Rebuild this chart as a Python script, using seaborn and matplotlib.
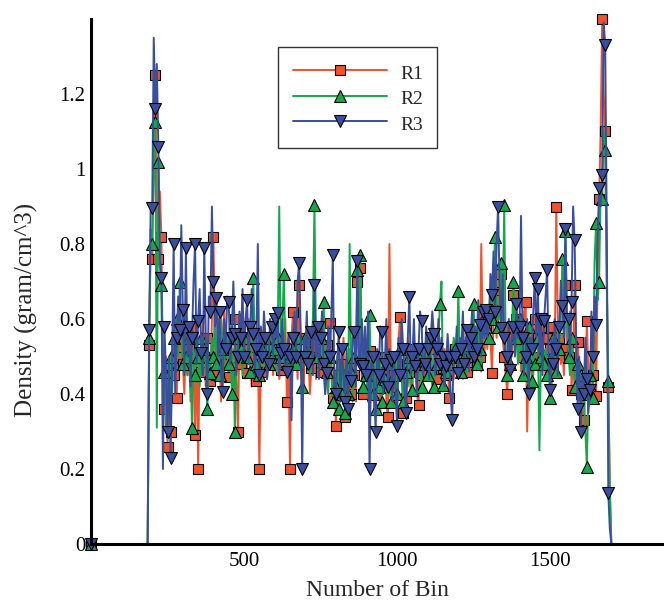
import numpy as np
import pandas as pd
import matplotlib
matplotlib.use("Agg")
import matplotlib.pyplot as plt
from matplotlib.ticker import MultipleLocator, FixedLocator, FuncFormatter
import seaborn as sns

# ---------------- data ----------------
# bins: 0, 185, then 190..1700 every 5 bins
bins = [0, 185] + list(range(190, 1705, 5))

r1_vals = [0.0, 0.0,
    0.53, 0.84, 0.76, 1.05, 1.25, 0.90, 0.76, 0.94, 0.82, 0.45, 0.36, 0.50, 0.26, 0.42, 0.30, 0.55, 0.45, 0.60, 0.39, 0.52,
    0.50, 0.62, 0.48, 0.40, 0.55, 0.45, 0.52, 0.38, 0.58, 0.47, 0.29, 0.55, 0.20, 0.52, 0.46, 0.60, 0.50, 0.42, 0.55, 0.48,
    0.435, 0.60, 0.82, 0.53, 0.45, 0.60, 0.50, 0.38, 0.55, 0.62, 0.48, 0.52, 0.445, 0.58, 0.50, 0.40, 0.60, 0.45, 0.30, 0.55,
    0.48, 0.58, 0.52, 0.46, 0.455, 0.60, 0.50, 0.42, 0.55, 0.48, 0.435, 0.56, 0.20, 0.50, 0.46, 0.58, 0.50, 0.44, 0.52, 0.48,
    0.55, 0.45, 0.50, 0.56, 0.52, 0.44, 0.465, 0.55, 0.48, 0.60, 0.38, 0.52, 0.20, 0.55, 0.62, 0.48, 0.52, 0.44, 0.69, 0.50,
    0.50, 0.42, 0.55, 0.48, 0.52, 0.40, 0.47, 0.60, 0.50, 0.44, 0.56, 0.50, 0.46, 0.62, 0.48, 0.40, 0.53, 0.45, 0.59, 0.50,
    0.39, 0.47, 0.315, 0.50, 0.45, 0.38, 0.48, 0.55, 0.34, 0.45, 0.42, 0.52, 0.40, 0.48, 0.45, 0.38, 0.70, 0.52, 0.735, 0.45,
    0.40, 0.48, 0.45, 0.38, 0.515, 0.42, 0.48, 0.36, 0.44, 0.50, 0.42, 0.35, 0.46, 0.40, 0.50, 0.38, 0.34, 0.80, 0.42, 0.48,
    0.45, 0.38, 0.48, 0.55, 0.605, 0.45, 0.35, 0.50, 0.39, 0.55, 0.46, 0.40, 0.52, 0.45, 0.48, 0.40, 0.37, 0.52, 0.45, 0.50,
    0.48, 0.55, 0.455, 0.50, 0.46, 0.42, 0.52, 0.48, 0.44, 0.55, 0.50, 0.43, 0.47, 0.52, 0.45, 0.50, 0.39, 0.48, 0.50, 0.44,
    0.52, 0.47, 0.50, 0.55, 0.48, 0.44, 0.53, 0.50, 0.46, 0.56, 0.50, 0.45, 0.52, 0.58, 0.48, 0.55, 0.50, 0.80, 0.55, 0.50,
    0.58, 0.52, 0.62, 0.55, 0.455, 0.60, 0.65, 0.55, 0.70, 0.60, 0.72, 0.55, 0.50, 0.45, 0.40, 0.52, 0.58, 0.50, 0.665, 0.55,
    0.60, 0.50, 0.55, 0.46, 0.50, 0.62, 0.645, 0.30, 0.52, 0.58, 0.50, 0.45, 0.60, 0.52, 0.55, 0.48, 0.58, 0.50, 0.505, 0.45,
    0.55, 0.48, 0.52, 0.42, 0.58, 0.50, 0.90, 0.60, 0.55, 0.48, 0.52, 0.45, 0.69, 0.55, 0.50, 0.62, 0.41, 0.52, 0.69, 0.45,
    0.54, 0.45, 0.40, 0.35, 0.33, 0.42, 0.595, 0.45, 0.40, 0.50, 0.45, 0.60, 0.395, 0.70, 0.92, 1.10, 1.40, 1.20, 1.10, 0.70,
    0.42, 0.15, 0.0]

r2_vals = [0.0, 0.0,
    0.55, 0.80, 0.80, 1.00, 1.125, 0.31, 1.02, 0.74, 0.69, 0.50, 0.46, 0.30, 0.48, 0.35, 0.50, 0.40, 0.55, 0.45, 0.60, 0.50,
    0.70, 0.55, 0.48, 0.60, 0.50, 0.45, 0.55, 0.48, 0.31, 0.52, 0.45, 0.58, 0.50, 0.42, 0.55, 0.48, 0.52, 0.45, 0.36, 0.50,
    0.455, 0.55, 0.50, 0.62, 0.48, 0.55, 0.45, 0.60, 0.52, 0.46, 0.55, 0.50, 0.48, 0.58, 0.40, 0.52, 0.30, 0.50, 0.55, 0.48,
    0.52, 0.45, 0.55, 0.48, 0.50, 0.58, 0.46, 0.52, 0.71, 0.55, 0.48, 0.53, 0.45, 0.50, 0.52, 0.46, 0.55, 0.50, 0.48, 0.55,
    0.50, 0.55, 0.52, 0.46, 0.55, 0.90, 0.50, 0.58, 0.72, 0.52, 0.48, 0.55, 0.50, 0.45, 0.52, 0.58, 0.48, 0.52, 0.55, 0.47,
    0.42, 0.50, 0.55, 0.48, 0.52, 0.45, 0.50, 0.60, 0.905, 0.55, 0.50, 0.45, 0.55, 0.48, 0.645, 0.50, 0.46, 0.40, 0.50, 0.45,
    0.38, 0.45, 0.42, 0.50, 0.36, 0.45, 0.40, 0.48, 0.35, 0.44, 0.40, 0.80, 0.46, 0.38, 0.50, 0.42, 0.73, 0.50, 0.77, 0.45,
    0.42, 0.50, 0.45, 0.38, 0.61, 0.45, 0.40, 0.48, 0.36, 0.45, 0.42, 0.50, 0.38, 0.46, 0.44, 0.40, 0.48, 0.42, 0.38, 0.50,
    0.45, 0.50, 0.40, 0.48, 0.52, 0.45, 0.38, 0.50, 0.46, 0.42, 0.50, 0.45, 0.41, 0.52, 0.48, 0.44, 0.50, 0.46, 0.42, 0.52,
    0.48, 0.52, 0.45, 0.50, 0.55, 0.46, 0.42, 0.50, 0.48, 0.55, 0.64, 0.70, 0.425, 0.50, 0.46, 0.52, 0.48, 0.44, 0.50, 0.55,
    0.52, 0.48, 0.675, 0.50, 0.46, 0.55, 0.50, 0.45, 0.53, 0.48, 0.55, 0.50, 0.64, 0.52, 0.48, 0.58, 0.52, 0.46, 0.60, 0.55,
    0.58, 0.62, 0.55, 0.65, 0.60, 0.70, 0.82, 0.62, 0.58, 0.66, 0.75, 0.60, 0.905, 0.50, 0.45, 0.52, 0.48, 0.55, 0.70, 0.58,
    0.55, 0.48, 0.60, 0.52, 0.45, 0.55, 0.50, 0.46, 0.58, 0.50, 0.435, 0.52, 0.48, 0.60, 0.55, 0.25, 0.50, 0.55, 0.48, 0.52,
    0.45, 0.50, 0.39, 0.48, 0.55, 0.50, 0.46, 0.58, 0.52, 0.60, 0.76, 0.65, 0.835, 0.58, 0.50, 0.45, 0.55, 0.48, 0.42, 0.50,
    0.48, 0.40, 0.45, 0.38, 0.40, 0.30, 0.205, 0.42, 0.45, 0.50, 0.39, 0.75, 0.855, 0.65, 0.70, 0.95, 0.92, 1.10, 1.05, 0.70,
    0.435, 0.15, 0.0]

r3_vals = [0.0, 0.0,
    0.57, 0.90, 0.895, 1.35, 1.16, 1.28, 1.06, 0.765, 0.71, 0.20, 0.58, 0.45, 0.30, 0.50, 0.23, 0.48, 0.80, 0.40, 0.55, 0.66,
    0.57, 0.85, 0.625, 0.45, 0.79, 0.50, 0.58, 0.42, 0.55, 0.70, 0.80, 0.48, 0.595, 0.68, 0.51, 0.45, 0.79, 0.55, 0.40, 0.66,
    0.62, 0.90, 0.70, 0.58, 0.655, 0.50, 0.62, 0.45, 0.405, 0.60, 0.52, 0.66, 0.645, 0.48, 0.55, 0.70, 0.56, 0.45, 0.50, 0.62,
    0.55, 0.68, 0.50, 0.60, 0.65, 0.48, 0.58, 0.68, 0.56, 0.45, 0.52, 0.80, 0.45, 0.58, 0.50, 0.62, 0.55, 0.44, 0.48, 0.60,
    0.58, 0.50, 0.60, 0.55, 0.615, 0.45, 0.51, 0.60, 0.52, 0.46, 0.46, 0.56, 0.50, 0.33, 0.55, 0.62, 0.50, 0.70, 0.75, 0.57,
    0.20, 0.55, 0.50, 0.62, 0.48, 0.56, 0.565, 0.45, 0.69, 0.50, 0.58, 0.44, 0.55, 0.62, 0.48, 0.40, 0.455, 0.58, 0.50, 0.60,
    0.77, 0.42, 0.40, 0.50, 0.565, 0.38, 0.52, 0.45, 0.38, 0.52, 0.36, 0.48, 0.435, 0.55, 0.565, 0.42, 0.755, 0.50, 0.48, 0.60,
    0.475, 0.58, 0.45, 0.62, 0.20, 0.48, 0.50, 0.40, 0.30, 0.52, 0.45, 0.58, 0.565, 0.40, 0.48, 0.60, 0.42, 0.52, 0.49, 0.38,
    0.50, 0.40, 0.315, 0.55, 0.45, 0.60, 0.52, 0.40, 0.35, 0.55, 0.66, 0.45, 0.50, 0.60, 0.475, 0.40, 0.52, 0.62, 0.595, 0.45,
    0.48, 0.58, 0.52, 0.44, 0.55, 0.62, 0.56, 0.45, 0.52, 0.60, 0.48, 0.55, 0.50, 0.42, 0.475, 0.56, 0.50, 0.40, 0.33, 0.52,
    0.50, 0.58, 0.455, 0.55, 0.52, 0.62, 0.48, 0.55, 0.57, 0.46, 0.55, 0.62, 0.50, 0.58, 0.52, 0.65, 0.585, 0.50, 0.62, 0.55,
    0.625, 0.55, 0.60, 0.72, 0.665, 0.78, 0.62, 0.80, 0.90, 0.68, 0.575, 0.72, 0.55, 0.48, 0.50, 0.60, 0.465, 0.55, 0.58, 0.50,
    0.64, 0.55, 0.58, 0.875, 0.55, 0.45, 0.50, 0.60, 0.40, 0.55, 0.52, 0.62, 0.71, 0.55, 0.68, 0.50, 0.60, 0.45, 0.595, 0.66,
    0.73, 0.50, 0.41, 0.55, 0.48, 0.60, 0.52, 0.45, 0.58, 0.70, 0.635, 0.55, 0.84, 0.60, 0.60, 0.50, 0.645, 0.90, 0.81, 0.55,
    0.36, 0.50, 0.30, 0.45, 0.40, 0.55, 0.44, 0.35, 0.41, 0.62, 0.50, 0.66, 0.585, 0.80, 0.95, 0.90, 0.985, 1.39, 1.33, 0.845,
    0.135, 0.04, 0.0]

series_names = ["R1", "R2", "R3"]
y_ticks = [0, 0.2, 0.4, 0.6, 0.8, 1.0, 1.2]
x_ticks = [500, 1000, 1500]

# ---------------- styling ----------------
sns.set_style("white")
plt.rcParams["font.family"] = ["Liberation Serif", "DejaVu Serif"]
plt.rcParams["mathtext.fontset"] = "stix"

colors = {"R1": "#F0522C", "R2": "#14A84A", "R3": "#3A4E9E"}
markers = {"R1": "s", "R2": "^", "R3": "v"}
msize = {"R1": 7.5, "R2": 8.8, "R3": 8.8}

df = pd.concat([
    pd.DataFrame({"bin": bins, "density": vals, "run": name})
    for name, vals in zip(series_names, [r1_vals, r2_vals, r3_vals])
], ignore_index=True)

fig = plt.figure(figsize=(6.64, 6.05), dpi=100)
ax = fig.add_axes([91/664, 61/605, 573/664, 525/605])

n = len(bins)
mark_idx = [0] + list(range(2, n - 1, 2))

for name in series_names:
    sub = df[df["run"] == name]
    sns.lineplot(data=sub, x="bin", y="density", ax=ax, color=colors[name],
                 linewidth=1.4, estimator=None, sort=False, label=name,
                 marker=markers[name], markersize=msize[name],
                 markerfacecolor=colors[name], markeredgecolor="black",
                 markeredgewidth=0.8, markevery=mark_idx, clip_on=False)

ax.set_xlim(0, 1872)
ax.set_ylim(0, 1.4)

ax.xaxis.set_major_locator(FixedLocator(x_ticks))
ax.xaxis.set_minor_locator(MultipleLocator(100))
ax.yaxis.set_major_locator(FixedLocator(y_ticks))
ax.yaxis.set_minor_locator(MultipleLocator(0.05))
ax.yaxis.set_major_formatter(FuncFormatter(lambda v, p: f"{v:g}"))

for s in ["top", "right"]:
    ax.spines[s].set_visible(False)
for s in ["left", "bottom"]:
    ax.spines[s].set_linewidth(2.2)
    ax.spines[s].set_color("black")

ax.tick_params(which="major", direction="in", length=10, width=2.2,
               labelsize=15, pad=6, colors="black")
ax.tick_params(which="minor", direction="in", length=6, width=1.2, colors="black")
ax.tick_params(axis="y", which="major", pad=4)

ax.set_xlabel("Number of Bin", fontsize=17, labelpad=6)
ax.set_ylabel("Density (gram/cm^3)", fontsize=18)
ax.yaxis.set_label_coords((38 - 91) / 573, (544 - 309) / 526)

leg = ax.legend(loc="upper left", bbox_to_anchor=(278/664, 1 - 47/605),
                bbox_transform=fig.transFigure, frameon=True, fancybox=False,
                edgecolor="black", fontsize=14, handlelength=4.85, numpoints=1,
                handleheight=1.3, borderpad=0.75, labelspacing=0.22,
                handletextpad=0.67, borderaxespad=0)
leg.get_frame().set_linewidth(1.0)
for h in leg.legend_handles:
    h.set_markevery([1])

fig.savefig("out.png", dpi=100)
